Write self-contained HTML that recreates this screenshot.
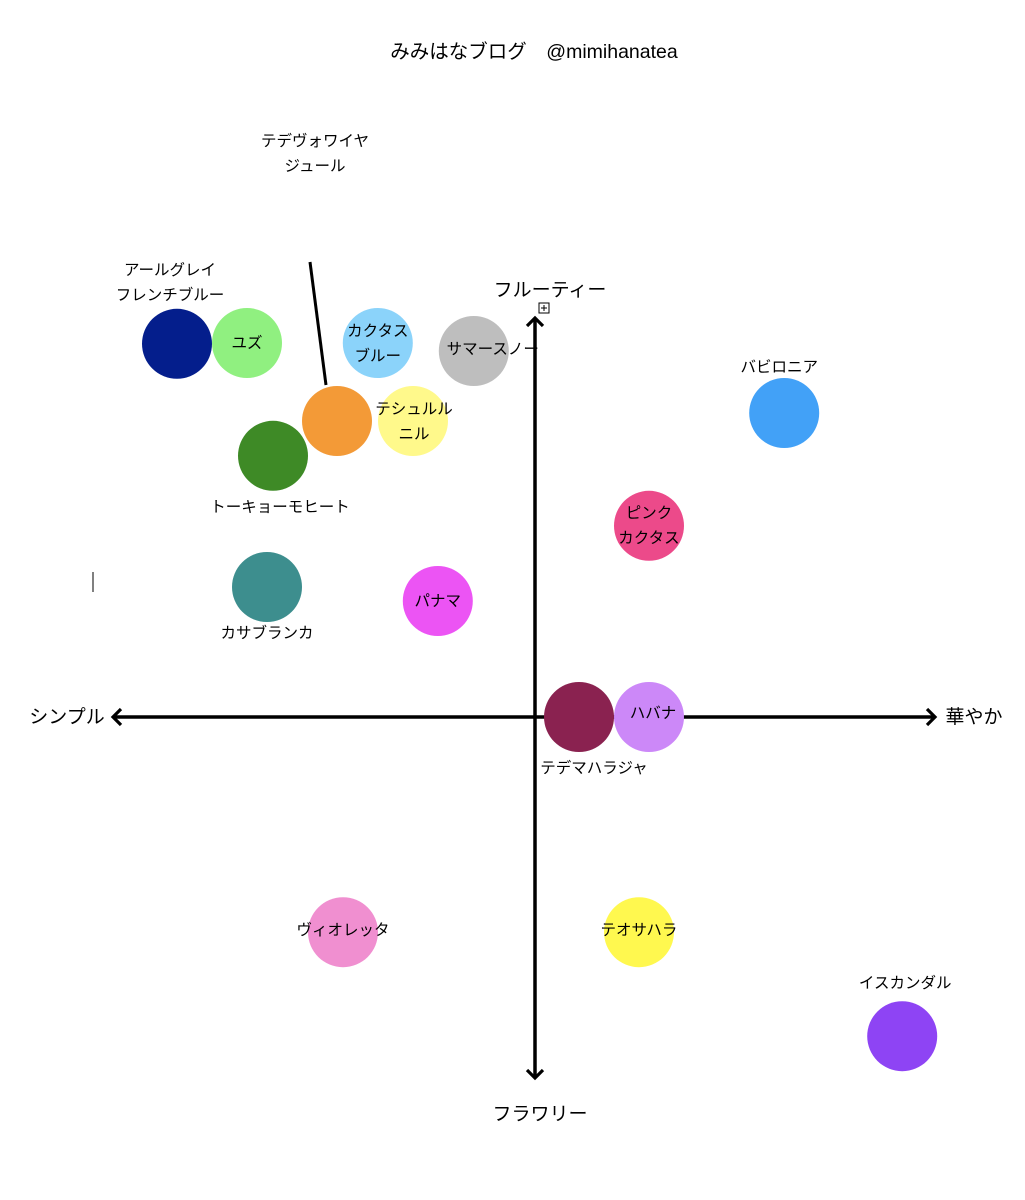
<!DOCTYPE html>
<html><head><meta charset="utf-8">
<style>
html,body{margin:0;padding:0;background:#fff;}
svg{display:block;font-family:"Liberation Sans","Noto Sans CJK JP",sans-serif;}
</style></head>
<body>
<svg id="chart" width="1025" height="1200" viewBox="0 0 1025 1200">
<defs>
<marker id="arr" viewBox="0 0 20 20" refX="17" refY="10" markerWidth="20" markerHeight="20" markerUnits="userSpaceOnUse" orient="auto">
<path d="M9,2 L17,10 L9,18" fill="none" stroke="#000" stroke-width="3.2"/>
</marker>
</defs>
<text x="534" y="58" font-size="19.5" text-anchor="middle">みみはなブログ　@mimihanatea</text>
<line x1="535" y1="717" x2="113" y2="717" stroke="#000" stroke-width="3.5" marker-end="url(#arr)"/>
<line x1="535" y1="717" x2="935" y2="717" stroke="#000" stroke-width="3.5" marker-end="url(#arr)"/>
<line x1="535" y1="717" x2="535" y2="318" stroke="#000" stroke-width="3.5" marker-end="url(#arr)"/>
<line x1="535" y1="717" x2="535" y2="1078" stroke="#000" stroke-width="3.5" marker-end="url(#arr)"/>
<text x="67" y="723" font-size="19" text-anchor="middle">シンプル</text>
<text x="974" y="723" font-size="19" text-anchor="middle">華やか</text>
<text x="550" y="296" font-size="19" text-anchor="middle">フルーティー</text>
<text x="540" y="1120" font-size="19" text-anchor="middle">フラワリー</text>
<g>
<rect x="539" y="303" width="10" height="10" fill="#fff" stroke="#000" stroke-width="1"/>
<line x1="541" y1="308" x2="547" y2="308" stroke="#000" stroke-width="1"/>
<line x1="544" y1="305" x2="544" y2="311" stroke="#000" stroke-width="1"/>
</g>
<line x1="93" y1="572" x2="93" y2="592" stroke="#000" stroke-width="1"/>
<line x1="310" y1="262" x2="326" y2="385" stroke="#000" stroke-width="3"/>
<g id="marks"></g>
</svg>
<script>
const teaNames = ["アールグレイ\nフレンチブルー","ユズ","カクタス\nブルー","サマースノー","バビロニア","テデヴォワイヤ\nジュール","テシュルル\nニル","トーキョーモヒート","ピンク\nカクタス","カサブランカ","パナマ","テデマハラジャ","ハバナ","ヴィオレッタ","テオサハラ","イスカンダル"];
const hanayakaValues = [-8.95,-7.2,-3.93,-1.53,6.23,-4.95,-3.05,-6.55,2.85,-6.7,-2.43,1.1,2.85,-4.8,2.6,9.18];
const fruityValues = [9.33,9.35,9.35,9.15,7.6,7.4,7.4,6.53,4.78,3.25,2.9,0,0,-5.38,-5.38,-7.98];
const teaColors = ["#041E8C","#90F080","#8BD3FA","#BEBEBE","#42A1F7","#F39A37","#FFF98B","#3E8A26","#EC4A8A","#3D8E8E","#EC54F4","#8A2250","#CC88F8","#F08FD0","#FFF84F","#8E44F4"];
// label offsets relative to circle center (layout, not data)
const labelDx = [-7,0,0,19,-5,-22,1,7,0,0,0,15,4,0,0,3];
const labelDy = [-74,0,-12,-2,-46,-280,-12,51,-13,46,0,51,-4,-2,-2,-53];

const X0=535,Y0=717,U=40;
const xScale=v=>X0+v*U;
const yScale=v=>Y0-v*U;
const NS="http://www.w3.org/2000/svg";
const g=document.getElementById('marks');
teaNames.forEach((name,i)=>{
  const cx=xScale(hanayakaValues[i]), cy=yScale(fruityValues[i]);
  const c=document.createElementNS(NS,'circle');
  c.setAttribute('cx',cx);c.setAttribute('cy',cy);c.setAttribute('r',35);
  c.setAttribute('fill',teaColors[i]);
  
  
  g.appendChild(c);
});
teaNames.forEach((name,i)=>{
  const cx=xScale(hanayakaValues[i]), cy=yScale(fruityValues[i]);
  const lines=name.split("\n");
  lines.forEach((ln,j)=>{
    const t=document.createElementNS(NS,'text');
    t.setAttribute('x',cx+labelDx[i]);
    t.setAttribute('y',cy+labelDy[i]+j*25+5);
    t.setAttribute('font-size','15.5');
    t.setAttribute('text-anchor','middle');
    t.textContent=ln;
    
    
    g.appendChild(t);
  });
});
</script>
</body></html>
